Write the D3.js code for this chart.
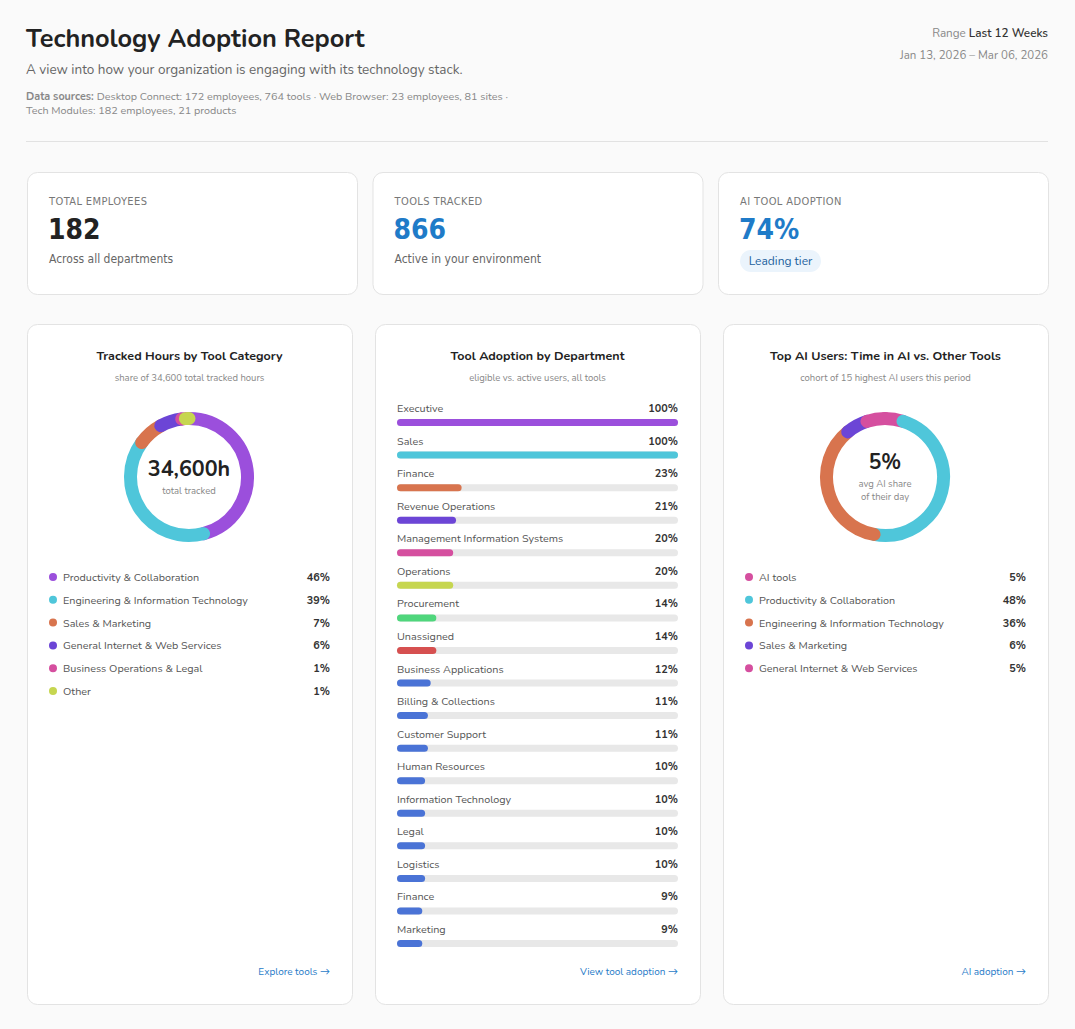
<!DOCTYPE html>
<html>
<head>
<meta charset="utf-8">
<script src="https://cdn.jsdelivr.net/npm/d3@7"></script>
<style>
  body { margin: 0; background: #fafafa; }
  svg { display: block; font-family: Nunito, Lato, "Noto Sans", sans-serif; }
</style>
</head>
<body>
<svg id="chart" width="1075" height="1029"></svg>
<script>
// ---- data ----
var kpiLabels = ["TOTAL EMPLOYEES", "TOOLS TRACKED", "AI TOOL ADOPTION"]
var kpiValues = ["182", "866", "74%"]
var kpiNotes = ["Across all departments", "Active in your environment", ""]

var toolCategories = ["Productivity & Collaboration", "Engineering & Information Technology", "Sales & Marketing",
  "General Internet & Web Services", "Business Operations & Legal", "Other"]
var toolShare = [46, 39, 7, 6, 1, 1]
var toolColors = ["#9b4fdc", "#4fc6da", "#d8744e", "#6c45d6", "#d54f9f", "#c6d650"]

var departments = ["Executive", "Sales", "Finance", "Revenue Operations", "Management Information Systems",
  "Operations", "Procurement", "Unassigned", "Business Applications", "Billing & Collections",
  "Customer Support", "Human Resources", "Information Technology", "Legal", "Logistics", "Finance ", "Marketing"]
var deptAdoption = [100, 100, 23, 21, 20, 20, 14, 14, 12, 11, 11, 10, 10, 10, 10, 9, 9]
var deptColors = ["#9b4fdc", "#4fc6da", "#d8744e", "#6c45d6", "#d54f9f", "#c6d650", "#4fd67c", "#d65050",
  "#4a73d6", "#4a73d6", "#4a73d6", "#4a73d6", "#4a73d6", "#4a73d6", "#4a73d6", "#4a73d6", "#4a73d6"]

var aiCategories = ["AI tools", "Productivity & Collaboration", "Engineering & Information Technology",
  "Sales & Marketing", "General Internet & Web Services"]
var aiShare = [5, 48, 36, 6, 5]
var aiColors = ["#d54f9f", "#4fc6da", "#d8744e", "#6c45d6", "#d54f9f"]

var svg = d3.select("#chart")
var dark = "#222", mid = "#555", light = "#888", blue = "#1f7bc8"

// ---- header ----
svg.append("text").text("Technology Adoption Report")
  .attr("x", 26).attr("y", 47).attr("font-size", 25.3).attr("font-weight", 700).attr("fill", dark)
svg.append("text").text("A view into how your organization is engaging with its technology stack.")
  .attr("x", 26).attr("y", 74).attr("font-size", 13.5).attr("fill", "#666")
var src = svg.append("text").attr("x", 26).attr("y", 100).attr("font-size", 10.8).attr("fill", light)
src.append("tspan").text("Data sources: ").attr("font-weight", 700)
src.append("tspan").text("Desktop Connect: 172 employees, 764 tools · Web Browser: 23 employees, 81 sites ·")
svg.append("text").text("Tech Modules: 182 employees, 21 products")
  .attr("x", 26).attr("y", 114).attr("font-size", 10.8).attr("fill", light)

var rng = svg.append("text").attr("x", 1048).attr("y", 37).attr("font-size", 11.7).attr("text-anchor", "end")
rng.append("tspan").text("Range ").attr("fill", light)
rng.append("tspan").text("Last 12 Weeks").attr("fill", "#333").attr("font-weight", 600)
svg.append("text").text("Jan 13, 2026 – Mar 06, 2026")
  .attr("x", 1048).attr("y", 59).attr("font-size", 11.5).attr("text-anchor", "end").attr("fill", light)

svg.append("line").attr("x1", 26).attr("x2", 1048).attr("y1", 141.5).attr("y2", 141.5)
  .attr("stroke", "#e2e2e2")

// ---- KPI cards ----
var kpiX = d3.scalePoint().domain(kpiLabels).range([27, 718])
kpiLabels.forEach(function(lbl, i) {
  var x = kpiX(lbl)
  var g = svg.append("g").attr("transform", "translate(" + x + ",172)")
  g.append("rect").attr("x", 0.5).attr("y", 0.5).attr("width", 330).attr("height", 122).attr("rx", 10)
    .attr("fill", "#fff").attr("stroke", "#e3e3e3")
  g.append("text").text(lbl).attr("x", 22).attr("y", 33).attr("font-size", 11)
    .attr("letter-spacing", 0.4).attr("fill", "#777").attr("font-family", "'DejaVu Sans Condensed', sans-serif")
  g.append("text").text(kpiValues[i]).attr("x", 21).attr("y", 67).attr("font-size", 28)
    .attr("font-weight", 700).attr("fill", i == 0 ? dark : blue)
    .attr("font-family", "'DejaVu Sans Condensed', sans-serif")
  if (kpiNotes[i]) {
    g.append("text").text(kpiNotes[i]).attr("x", 22).attr("y", 91).attr("font-size", 12)
      .attr("fill", "#666").attr("font-family", "'DejaVu Sans Condensed', sans-serif")
  } else {
    g.append("rect").attr("x", 22).attr("y", 78).attr("width", 81).attr("height", 22).attr("rx", 11)
      .attr("fill", "#ebf4fc")
    g.append("text").text("Leading tier").attr("x", 62.5).attr("y", 93).attr("text-anchor", "middle")
      .attr("font-size", 12).attr("fill", "#1b5f9c")
  }
})

// ---- chart cards ----
var cardX = [27, 375, 723]
var titles = ["Tracked Hours by Tool Category", "Tool Adoption by Department", "Top AI Users: Time in AI vs. Other Tools"]
var subs = ["share of 34,600 total tracked hours", "eligible vs. active users, all tools", "cohort of 15 highest AI users this period"]
var links = ["Explore tools \u2192", "View tool adoption \u2192", "AI adoption \u2192"]

cardX.forEach(function(x, i) {
  var g = svg.append("g").attr("transform", "translate(" + x + ",324)")
  g.append("rect").attr("x", 0.5).attr("y", 0.5).attr("width", 325).attr("height", 680).attr("rx", 10)
    .attr("fill", "#fff").attr("stroke", "#e3e3e3")
  g.append("text").text(titles[i]).attr("x", 162.5).attr("y", 36).attr("text-anchor", "middle")
    .attr("font-size", 12.5).attr("font-weight", 700).attr("fill", dark)
  g.append("text").text(subs[i]).attr("x", 162.5).attr("y", 57).attr("text-anchor", "middle")
    .attr("font-size", 9.5).attr("fill", light)
  g.append("text").text(links[i]).attr("x", 303).attr("y", 651).attr("text-anchor", "end")
    .attr("font-size", 10).attr("fill", blue)
})

// donut helper: stroke along the middle radius with rounded ends
function donut(cx, cy, values, colors) {
  var pie = d3.pie().sort(null).value(function(d) { return d })
  var rMid = 58.5
  var arc = d3.arc().innerRadius(rMid).outerRadius(rMid)
  svg.append("g").attr("transform", "translate(" + cx + "," + cy + ")")
    .selectAll("path").data(pie(values)).enter().append("path")
    .attr("d", arc)
    .attr("fill", "none")
    .attr("stroke", function(d, i) { return colors[i] })
    .attr("stroke-width", 13)
    .attr("stroke-linejoin", "round")
    .attr("stroke-linecap", "round")
}

function legend(x0, x1, y0, labels, values, colors) {
  var y = d3.scalePoint().domain(labels).range([y0, y0 + 22.8 * (labels.length - 1)])
  var g = svg.append("g")
  labels.forEach(function(l, i) {
    g.append("circle").attr("cx", x0).attr("cy", y(l) - 4).attr("r", 4).attr("fill", colors[i])
    g.append("text").text(l).attr("x", x0 + 10).attr("y", y(l)).attr("font-size", 10.8).attr("fill", mid)
    g.append("text").text(values[i] + "%").attr("x", x1).attr("y", y(l)).attr("text-anchor", "end")
      .attr("font-size", 10.8).attr("font-weight", 700).attr("fill", "#333")
  })
}

// card 1
donut(189, 477, toolShare, toolColors)
svg.append("text").text("34,600h").attr("x", 189).attr("y", 476).attr("text-anchor", "middle")
  .attr("font-size", 21.5).attr("font-weight", 700).attr("fill", dark)
svg.append("text").text("total tracked").attr("x", 189).attr("y", 494).attr("text-anchor", "middle")
  .attr("font-size", 9.5).attr("fill", light)
legend(53, 330, 581, toolCategories, toolShare, toolColors)

// card 2 bars
var xBar = d3.scaleLinear().domain([0, 100]).range([397, 678])
var yRow = d3.scalePoint().domain(departments).range([412, 933])
var bars = svg.append("g")
departments.forEach(function(d, i) {
  var y = yRow(d)
  bars.append("text").text(d.trim()).attr("x", 397).attr("y", y).attr("font-size", 10.8).attr("fill", mid)
  bars.append("text").text(deptAdoption[i] + "%").attr("x", 678).attr("y", y).attr("text-anchor", "end")
    .attr("font-size", 10.8).attr("font-weight", 700).attr("fill", "#333")
  bars.append("rect").attr("x", xBar(0)).attr("y", y + 7).attr("width", xBar(100) - xBar(0)).attr("height", 7)
    .attr("rx", 3.5).attr("fill", "#e8e8e8")
  bars.append("rect").attr("x", xBar(0)).attr("y", y + 7).attr("width", xBar(deptAdoption[i]) - xBar(0))
    .attr("height", 7).attr("rx", 3.5).attr("fill", deptColors[i])
})

// card 3
donut(885, 477, aiShare, aiColors)
svg.append("text").text("5%").attr("x", 885).attr("y", 469).attr("text-anchor", "middle")
  .attr("font-size", 21).attr("font-weight", 700).attr("fill", dark)
svg.append("text").text("avg AI share").attr("x", 885).attr("y", 487).attr("text-anchor", "middle")
  .attr("font-size", 9.5).attr("fill", light)
svg.append("text").text("of their day").attr("x", 885).attr("y", 500).attr("text-anchor", "middle")
  .attr("font-size", 9.5).attr("fill", light)
legend(749, 1026, 581, aiCategories, aiShare, aiColors)
</script>
</body>
</html>
